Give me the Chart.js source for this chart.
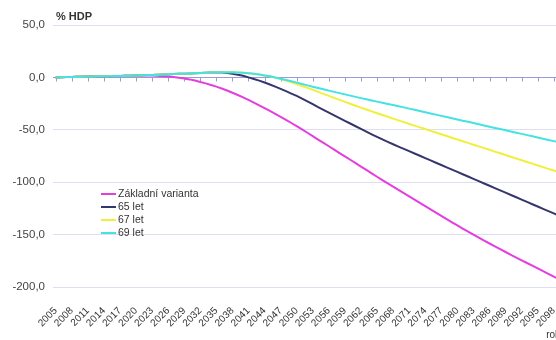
<!DOCTYPE html>
<html>
<head>
<meta charset="utf-8">
<script src="https://cdn.jsdelivr.net/npm/chart.js@4"></script>
<style>
    body { margin: 0; overflow: hidden; background: #fff; }
    #wrap { position: relative; width: 583px; height: 340px; }
    #legend { position: absolute; left: 101px; top: 187px; font: 10.5px "Liberation Sans", Arial, sans-serif; color: #333; }
    .item { height: 13px; line-height: 13px; white-space: nowrap; }
    .swatch { display: inline-block; width: 15px; height: 2px; vertical-align: middle; margin-right: 2px; }
</style>
</head>
<body>
<div id="wrap">
    <canvas id="chart" width="583" height="340"></canvas>
    <div id="legend"></div>
</div>
<script>
const years = [
    2005, 2006, 2007, 2008, 2009, 2010, 2011, 2012, 2013, 2014, 2015, 2016, 2017, 2018, 2019, 2020,
    2021, 2022, 2023, 2024, 2025, 2026, 2027, 2028, 2029, 2030, 2031, 2032, 2033, 2034, 2035, 2036,
    2037, 2038, 2039, 2040, 2041, 2042, 2043, 2044, 2045, 2046, 2047, 2048, 2049, 2050, 2051, 2052,
    2053, 2054, 2055, 2056, 2057, 2058, 2059, 2060, 2061, 2062, 2063, 2064, 2065, 2066, 2067, 2068,
    2069, 2070, 2071, 2072, 2073, 2074, 2075, 2076, 2077, 2078, 2079, 2080, 2081, 2082, 2083, 2084,
    2085, 2086, 2087, 2088, 2089, 2090, 2091, 2092, 2093, 2094, 2095, 2096, 2097, 2098, 2099, 2100
];

// Základní varianta
const zakladni = [
    0.0, 0.2, 0.4, 0.5, 0.6, 0.7, 0.8, 0.9, 1.0, 1.1, 1.2, 1.3, 1.4, 1.5, 1.6, 1.7,
    1.8, 1.8, 1.7, 1.5, 1.2, 0.8, 0.3, -0.3, -1.0, -1.9, -3.0, -4.3, -5.7, -7.2, -8.8, -10.6,
    -12.5, -14.6, -16.8, -19.1, -21.5, -24.0, -26.6, -29.3, -32.0, -34.8, -37.6, -40.5, -43.5, -46.5, -49.6, -52.8,
    -56.0, -59.3, -62.5, -65.7, -69.0, -72.2, -75.4, -78.6, -81.8, -85.1, -88.3, -91.5, -94.8, -98.0, -101.1, -104.2,
    -107.3, -110.4, -113.5, -116.6, -119.7, -122.8, -125.9, -129.0, -132.1, -135.2, -138.3, -141.3, -144.3, -147.2, -150.1, -153.0,
    -155.8, -158.5, -161.2, -163.9, -166.6, -169.3, -171.9, -174.5, -177.1, -179.7, -182.3, -184.9, -187.5, -190.1, -192.7, -195.3
];

// 65 let
const let65 = [
    0.0, 0.2, 0.4, 0.5, 0.6, 0.7, 0.8, 0.9, 1.0, 1.1, 1.2, 1.3, 1.4, 1.5, 1.6, 1.8,
    2.0, 2.2, 2.4, 2.6, 2.8, 3.0, 3.2, 3.4, 3.6, 3.8, 4.0, 4.2, 4.4, 4.6, 4.7, 4.6,
    4.2, 3.5, 2.6, 1.5, 0.0, -1.5, -3.1, -4.9, -6.8, -8.8, -10.9, -13.1, -15.4, -17.7, -20.2, -22.8,
    -25.6, -28.4, -31.0, -33.6, -36.2, -38.8, -41.4, -44.0, -46.6, -49.2, -51.8, -54.3, -56.8, -59.2, -61.5, -63.8,
    -66.0, -68.2, -70.4, -72.6, -74.8, -77.0, -79.2, -81.4, -83.6, -85.8, -88.0, -90.2, -92.4, -94.6, -96.8, -99.0,
    -101.2, -103.4, -105.6, -107.8, -110.0, -112.2, -114.4, -116.6, -118.8, -121.0, -123.2, -125.4, -127.6, -129.8, -132.0, -134.2
];

// 67 let
const let67 = [
    0.0, 0.2, 0.4, 0.5, 0.6, 0.7, 0.8, 0.9, 1.0, 1.1, 1.2, 1.3, 1.4, 1.5, 1.6, 1.8,
    2.0, 2.2, 2.4, 2.6, 2.8, 3.0, 3.2, 3.4, 3.6, 3.8, 4.0, 4.2, 4.4, 4.6, 4.8, 5.0,
    5.0, 4.9, 4.7, 4.4, 4.0, 3.4, 2.7, 1.9, 1.0, -0.2, -1.6, -3.1, -4.7, -6.4, -8.2, -10.0,
    -11.9, -13.8, -15.7, -17.6, -19.5, -21.4, -23.3, -25.2, -27.0, -28.8, -30.6, -32.4, -34.2, -35.9, -37.6, -39.3,
    -41.0, -42.7, -44.4, -46.0, -47.7, -49.3, -51.0, -52.6, -54.3, -55.9, -57.6, -59.2, -60.9, -62.5, -64.2, -65.8,
    -67.5, -69.1, -70.8, -72.4, -74.1, -75.7, -77.4, -79.0, -80.7, -82.3, -84.0, -85.6, -87.3, -88.9, -90.6, -92.2
];

// 69 let
const let69 = [
    0.0, 0.2, 0.4, 0.5, 0.6, 0.7, 0.8, 0.9, 1.0, 1.1, 1.2, 1.3, 1.4, 1.5, 1.6, 1.8,
    2.0, 2.2, 2.4, 2.6, 2.8, 3.0, 3.2, 3.4, 3.6, 3.8, 4.0, 4.2, 4.4, 4.6, 4.8, 5.0,
    5.0, 4.9, 4.7, 4.4, 4.0, 3.4, 2.7, 1.9, 1.0, -0.1, -1.2, -2.4, -3.7, -5.0, -6.3, -7.6,
    -8.9, -10.2, -11.4, -12.6, -13.8, -15.0, -16.2, -17.4, -18.6, -19.8, -20.9, -22.0, -23.1, -24.2, -25.3, -26.4,
    -27.5, -28.6, -29.8, -30.9, -32.1, -33.2, -34.4, -35.5, -36.7, -37.8, -39.0, -40.1, -41.3, -42.4, -43.6, -44.7,
    -45.9, -47.0, -48.2, -49.3, -50.5, -51.6, -52.8, -53.9, -55.1, -56.2, -57.4, -58.5, -59.7, -60.8, -62.0, -63.1
];

const seriesNames = ["Základní varianta", "65 let", "67 let", "69 let"];
const seriesColors = ["#e43ede", "#36366e", "#f0f03c", "#44e2e2"];
const yTicks = [50, 0, -50, -100, -150, -200];

const FONT = '"Liberation Sans", Arial, sans-serif';

// tick marks on the zero line, "% HDP" and "rok" labels
const axisExtras = {
    id: 'axisExtras',
    beforeDatasetsDraw(chart) {
        const xs = chart.scales.x;
        const ys = chart.scales.y;
        const ctx = chart.ctx;
        const y0 = Math.round(ys.getPixelForValue(0)) + 0.5;
        ctx.save();
        ctx.strokeStyle = '#9a9ad8';
        ctx.lineWidth = 1;
        ctx.beginPath();
        years.forEach((yr, i) => {
            if (i % 3 !== 0) return;
            const px = Math.round(xs.getPixelForValue(i)) + 0.5;
            ctx.moveTo(px, y0);
            ctx.lineTo(px, y0 + 4);
        });
        ctx.stroke();
        ctx.fillStyle = '#333';
        ctx.font = 'bold 11px ' + FONT;
        ctx.textBaseline = 'middle';
        ctx.fillText('% HDP', xs.left + 3, ys.top - 8);
        ctx.font = '10px ' + FONT;
        ctx.fillText('rok', xs.right - 21, chart.height - 5);
        ctx.restore();
    }
};

const allSeries = [zakladni, let65, let67, let69];

new Chart(document.getElementById('chart'), {
    type: 'line',
    data: {
        labels: years,
        datasets: allSeries.map((vals, i) => ({
            label: seriesNames[i],
            data: vals,
            borderColor: seriesColors[i],
            backgroundColor: seriesColors[i],
            borderWidth: 2,
            pointRadius: 0,
            tension: 0,
            fill: false,
            order: allSeries.length - i
        }))
    },
    options: {
        responsive: false,
        animation: false,
        layout: { padding: { top: 25, right: 4, left: 0, bottom: 0 } },
        plugins: {
            legend: { display: false },
            tooltip: { enabled: false }
        },
        scales: {
            x: {
                type: 'category',
                offset: true,
                grid: { display: false },
                border: { display: false },
                afterFit: s => { s.height = 53; },
                ticks: {
                    autoSkip: false,
                    minRotation: 45,
                    maxRotation: 45,
                    padding: 10,
                    color: '#333',
                    font: { family: FONT, size: 10 },
                    callback: (v, i) => (i % 3 === 0 ? String(years[i]) : '')
                }
            },
            y: {
                min: -200,
                max: 50,
                afterFit: s => { s.width = 53; },
                afterBuildTicks: s => { s.ticks = yTicks.map(v => ({ value: v })); },
                border: { display: false },
                grid: {
                    drawTicks: false,
                    color: c => (c.tick && c.tick.value === 0 ? '#9a9ad8' : '#dedef2')
                },
                ticks: {
                    padding: 8,
                    color: '#444',
                    font: { family: FONT, size: 11.5 },
                    callback: v => v.toFixed(1).replace('.', ',')
                }
            }
        }
    },
    plugins: [axisExtras]
});

// legend
const legend = document.getElementById('legend');
seriesNames.forEach((name, i) => {
    const row = document.createElement('div');
    row.className = 'item';
    const sw = document.createElement('span');
    sw.className = 'swatch';
    sw.style.background = seriesColors[i];
    row.appendChild(sw);
    row.appendChild(document.createTextNode(name));
    legend.appendChild(row);
});
</script>
</body>
</html>
